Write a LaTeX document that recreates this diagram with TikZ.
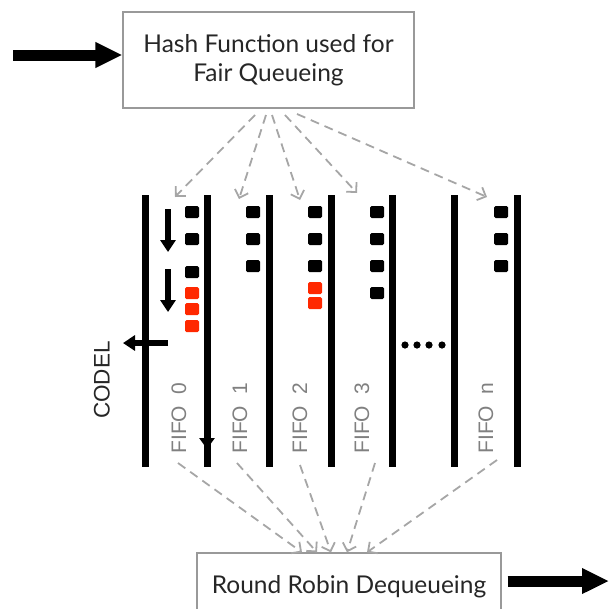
\documentclass[tikz,border=0pt]{standalone}
\usepackage{fontspec}
\setmainfont{Lato}
\newfontfamily\arialfont{Liberation Sans}
\usetikzlibrary{arrows.meta}
\definecolor{pktred}{RGB}{255,40,0}

\begin{document}
\begin{tikzpicture}[x=1pt,y=-1pt]

\tikzset{box/.style = {draw=black!40, line width=1.3pt, align=center, font=\fontsize{24.5}{29}\selectfont, text=black!85}}
\tikzset{hashedge/.style = {-{Straight Barb[length=7pt,width=14pt]}, draw=black!35, line width=1.8pt, dash pattern=on 9pt off 6pt}}
\tikzset{fatarrow/.style = {-{Triangle[length=27pt,width=24pt]}, line width=11pt}}
\tikzset{flow/.style = {-{Triangle[length=12pt,width=15pt]}, line width=6pt}}
\tikzset{fifobar/.style = {line width=7pt}}
\tikzset{pkt/.style = {fill=black, minimum width=14pt, minimum height=12pt, inner sep=0pt, rounded corners=1.5pt}}
\tikzset{droppkt/.style = {pkt, fill=pktred}}
\tikzset{fifolabel/.style = {rotate=90, font=\arialfont\fontsize{21}{21}\selectfont, text=black!50}}

\useasboundingbox (0,0) rectangle (609,608);

%boxes
\node[box, minimum width=291pt, minimum height=96pt] (hash) at (268.5,60) {Hash Function used for\\Fair Queueing};
\node[box, minimum width=304pt, minimum height=68pt] (rr) at (349,587) {Round Robin Dequeueing};

%in and out
\coordinate (src) at (13,55);
\coordinate (sink) at (609,581);
\draw[fatarrow] (src) -- (hash.west |- src);
\draw[fatarrow, shorten <=6pt] (rr.east |- sink) -- (sink);

%fifo walls
\foreach \x in {145,207,269,331,392,454,517}
  \draw[fifobar] (\x,195) -- (\x,467);

%fifo names
\node[fifolabel] (f0) at (179,418) {FIFO\ \ 0};
\node[fifolabel] (f1) at (240,418) {FIFO\ \ 1};
\node[fifolabel] (f2) at (300,418) {FIFO\ \ 2};
\node[fifolabel] (f3) at (362,418) {FIFO\ \ 3};
\node[fifolabel] (fn) at (486,418) {FIFO\ \ n};
\node[fifolabel, text=black!85, font=\arialfont\fontsize{22.5}{22}\selectfont] (codel) at (102,380) {CODEL};

%packets
\foreach \y in {212,239,272} \node[pkt] at (192,\y) {};
\foreach \y in {293,309,326} \node[droppkt] at (192,\y) {};
\foreach \y in {212,239,266} \node[pkt] at (253,\y) {};
\foreach \y in {212,239,266} \node[pkt] at (315,\y) {};
\foreach \y in {288,303} \node[droppkt] at (315,\y) {};
\foreach \y in {212,239,266,293} \node[pkt] at (377,\y) {};
\foreach \y in {212,239,266} \node[pkt] at (501,\y) {};

%dots
\foreach \x in {405,417,429,442} \fill (\x,345) circle (3.6pt);

%codel moves
\draw[flow] (168,209) -- (168,252);
\draw[flow] (168,269) -- (168,312);
\draw[flow] (168,343) -- (123,343);
\draw[-{Triangle[length=11pt,width=15pt]}, line width=6pt] (207,300) -- (207,449);

%hash to fifos
\coordinate (h0) at (255,115);
\coordinate (h1) at (266,115);
\coordinate (h2) at (272,115);
\coordinate (h3) at (285,115);
\coordinate (h4) at (297,114);
\coordinate (t0) at (175,197);
\coordinate (t1) at (239,199);
\coordinate (t2) at (300,200);
\coordinate (t3) at (357,193);
\coordinate (t4) at (487,197);
\draw[hashedge] (h0) -- (t0);
\draw[hashedge] (h1) -- (t1);
\draw[hashedge] (h2) -- (t2);
\draw[hashedge] (h3) -- (t3);
\draw[hashedge] (h4) -- (t4);

%fifos to round robin
\coordinate (b0) at (178,463);
\coordinate (b1) at (237,463);
\coordinate (b2) at (300,465);
\coordinate (b3) at (375,463);
\coordinate (b4) at (497,460);
\draw[hashedge] (b0) -- (rr.north -| 302,0);
\draw[hashedge] (b1) -- (rr.north -| 317,0);
\draw[hashedge] (b2) -- (rr.north -| 331,0);
\draw[hashedge] (b3) -- (rr.north -| 347,0);
\draw[hashedge] (b4) -- (rr.north -| 367,0);

\end{tikzpicture}
\end{document}
